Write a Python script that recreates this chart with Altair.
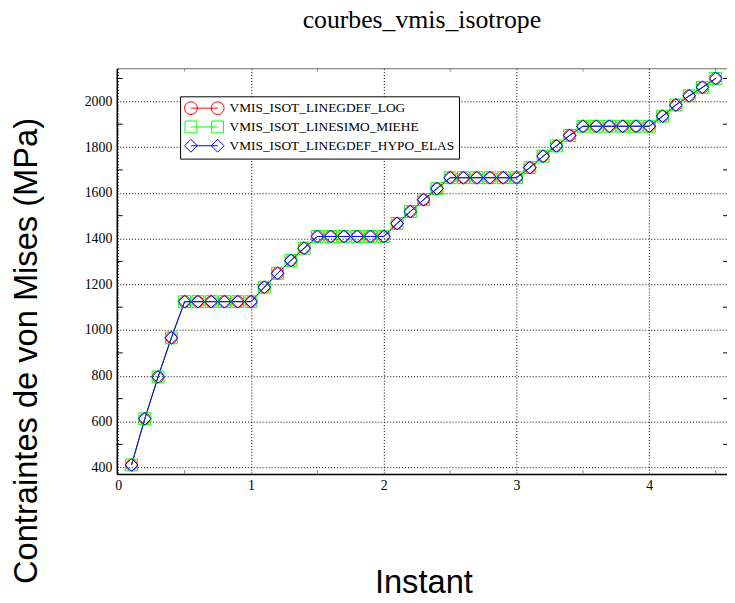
import math
import altair as alt
import pandas as pd

# ---------------- data ----------------
series = ["VMIS_ISOT_LINEGDEF_LOG", "VMIS_ISOT_LINESIMO_MIEHE", "VMIS_ISOT_LINEGDEF_HYPO_ELAS"]
colors = ["#ff0000", "#00ff00", "#0000ff"]
marker_shapes = ["circle", "square", "diamond"]
marker_sizes = [133, 144, 169]

instants = [0.1, 0.2, 0.3, 0.4, 0.5, 0.6, 0.7, 0.8, 0.9, 1.0,
            1.1, 1.2, 1.3, 1.4, 1.5, 1.6, 1.7, 1.8, 1.9, 2.0,
            2.1, 2.2, 2.3, 2.4, 2.5, 2.6, 2.7, 2.8, 2.9, 3.0,
            3.1, 3.2, 3.3, 3.4, 3.5, 3.6, 3.7, 3.8, 3.9, 4.0,
            4.1, 4.2, 4.3, 4.4, 4.5]

vmis_log = [410, 612, 795, 966, 1124, 1124, 1124, 1124, 1124, 1124,
            1187, 1248, 1304, 1358, 1409, 1409, 1409, 1409, 1409, 1409,
            1466, 1518, 1570, 1618, 1666, 1666, 1666, 1666, 1666, 1666,
            1710, 1760, 1805, 1851, 1891, 1891, 1891, 1891, 1891, 1891,
            1935, 1984, 2024, 2061, 2100]
vmis_miehe = [410, 612, 795, 966, 1124, 1124, 1124, 1124, 1124, 1124,
              1187, 1248, 1304, 1358, 1409, 1409, 1409, 1409, 1409, 1409,
              1466, 1518, 1570, 1618, 1666, 1666, 1666, 1666, 1666, 1666,
              1710, 1760, 1805, 1851, 1891, 1891, 1891, 1891, 1891, 1891,
              1935, 1984, 2024, 2061, 2100]
vmis_hypo = [410, 612, 795, 966, 1124, 1124, 1124, 1124, 1124, 1124,
             1187, 1248, 1304, 1358, 1409, 1409, 1409, 1409, 1409, 1409,
             1466, 1518, 1570, 1618, 1666, 1666, 1666, 1666, 1666, 1666,
             1710, 1760, 1805, 1851, 1891, 1891, 1891, 1891, 1891, 1891,
             1935, 1984, 2024, 2061, 2100]

x_ticks = [0, 1, 2, 3, 4]
x_minor = [0.5, 1.5, 2.5, 3.5, 4.5]
y_ticks = [400, 600, 800, 1000, 1200, 1400, 1600, 1800, 2000]
y_minor = [500, 700, 900, 1100, 1300, 1500, 1700, 1900, 2100]

# ---------------- layout ----------------
W, H = 617, 410

rows = []
for name, vals in zip(series, [vmis_log, vmis_miehe, vmis_hypo]):
    for t, v in zip(instants, vals):
        rows.append({"instant": t, "vmis": v, "serie": name})
df = pd.DataFrame(rows)

xscale = alt.Scale(domain=[-0.011, 4.585], nice=False, zero=False)
yscale = alt.Scale(domain=[370, 2143], nice=False, zero=False)

axis_kw = dict(grid=True, gridColor="black", gridDash=[1, 2], gridWidth=1,
               ticks=False, tickSize=0, domainColor="black", domainWidth=1.5,
               labelFont="Liberation Serif", labelFontSize=14, labelColor="black",
               labelPadding=5, titleFont="Liberation Sans", titleFontSize=33,
               titleFontWeight="normal", titleColor="black",
               titleBaseline="alphabetic", titleAlign="center", format="d")
xaxis = alt.Axis(values=x_ticks, labelFlush=False, title="Instant",
                 titleX=310, titleY=120, **axis_kw)
yaxis = alt.Axis(values=y_ticks, title="Contraintes de von Mises (MPa)",
                 titleAngle=270, titleX=-81, titleY=285, **axis_kw)
X = alt.X("instant:Q", scale=xscale, axis=xaxis)
Y = alt.Y("vmis:Q", scale=yscale, axis=yaxis)

color_scale = alt.Scale(domain=series, range=colors)

# ---- legend symbols: marker - line - marker (custom paths) ----
u = 7.5
x0 = -1.0
r = 6.5 / u
cl = x0 + r
cr = x0 + 40 / u - r


def f(v):
    return f"{v:.3f}"


def circ(cx, rad, n=16):
    pts = []
    for k in range(n):
        a = 2 * math.pi * k / n
        pts.append((cx + rad * math.cos(a), rad * math.sin(a)))
    s = "M" + f(pts[0][0]) + "," + f(pts[0][1])
    for p in pts[1:]:
        s += "L" + f(p[0]) + "," + f(p[1])
    return s + "Z"


def sq(cx, h):
    return (f"M{f(cx-h)},{f(-h)}L{f(cx+h)},{f(-h)}L{f(cx+h)},{f(h)}"
            f"L{f(cx-h)},{f(h)}Z")


def dia(cx, rad):
    return (f"M{f(cx-rad)},0L{f(cx)},{f(-rad)}L{f(cx+rad)},0L{f(cx)},{f(rad)}Z")


seg = f"M{f(cl)},0L{f(cr)},0"
legend_paths = [seg + circ(cl, r) + circ(cr, r),
                seg + sq(cl, 6 / u) + sq(cr, 6 / u),
                seg + dia(cl, r) + dia(cr, r)]

legend_spec = alt.Legend(title=None, orient="none", legendX=64, legendY=28,
                         padding=4, fillColor="white", strokeColor="black",
                         labelFont="Liberation Serif", labelFontSize=13.5,
                         labelColor="black", labelLimit=0, symbolSize=225,
                         symbolStrokeWidth=1, labelOffset=30, rowPadding=2,
                         symbolOpacity=1)

color_enc = alt.Color("serie:N", scale=color_scale, legend=legend_spec)

base = alt.Chart(df)

layers = []
# lines
for name in series:
    layers.append(
        base.transform_filter(alt.datum.serie == name)
        .mark_line(strokeWidth=1)
        .encode(x=X, y=Y, color=color_enc)
    )
# markers
for name, shp, sz in zip(series, marker_shapes, marker_sizes):
    layers.append(
        base.transform_filter(alt.datum.serie == name)
        .mark_point(filled=False, strokeWidth=1, size=sz, shape=shp, opacity=1)
        .encode(x=X, y=Y, color=color_enc)
    )
# legend carrier (draws nothing itself)
layers.append(
    base.transform_filter("false")
    .mark_point(filled=False, strokeWidth=1)
    .encode(x=X, y=Y, color=color_enc,
            shape=alt.Shape("serie:N", scale=alt.Scale(domain=series, range=legend_paths),
                            legend=legend_spec))
)

# frame decorations
one = pd.DataFrame({"k": [0]})
layers.append(alt.Chart(one).mark_rule(color="#808080", strokeWidth=1)
              .encode(x=alt.value(0), x2=alt.value(W), y=alt.value(0)))

ymin_df = pd.DataFrame({"vmis": y_minor})
layers.append(alt.Chart(ymin_df).mark_rule(color="black", strokeWidth=1)
              .encode(y=Y, x=alt.value(0), x2=alt.value(6)))
layers.append(alt.Chart(ymin_df).mark_rule(color="black", strokeWidth=1)
              .encode(y=Y, x=alt.value(W - 4), x2=alt.value(W)))

xmin_df = pd.DataFrame({"instant": x_minor})
layers.append(alt.Chart(xmin_df).mark_rule(color="#888888", strokeWidth=1)
              .encode(x=X, y=alt.value(H), y2=alt.value(H - 4)))
layers.append(alt.Chart(xmin_df).mark_rule(color="#888888", strokeWidth=1)
              .encode(x=X, y=alt.value(0), y2=alt.value(3)))

chart = alt.layer(*layers).properties(
    width=W, height=H,
    title=alt.TitleParams("courbes_vmis_isotrope", font="Liberation Serif",
                          fontSize=26, fontWeight="normal", color="black",
                          anchor="middle", frame="group", baseline="alphabetic",
                          offset=15),
    autosize=alt.AutoSizeParams(type="none"),
    padding={"left": 110, "top": 58, "right": 0, "bottom": 124},
).configure_view(stroke=None).configure(background="white")

chart.save("out.html", embed_options={"renderer": "svg", "actions": False})
